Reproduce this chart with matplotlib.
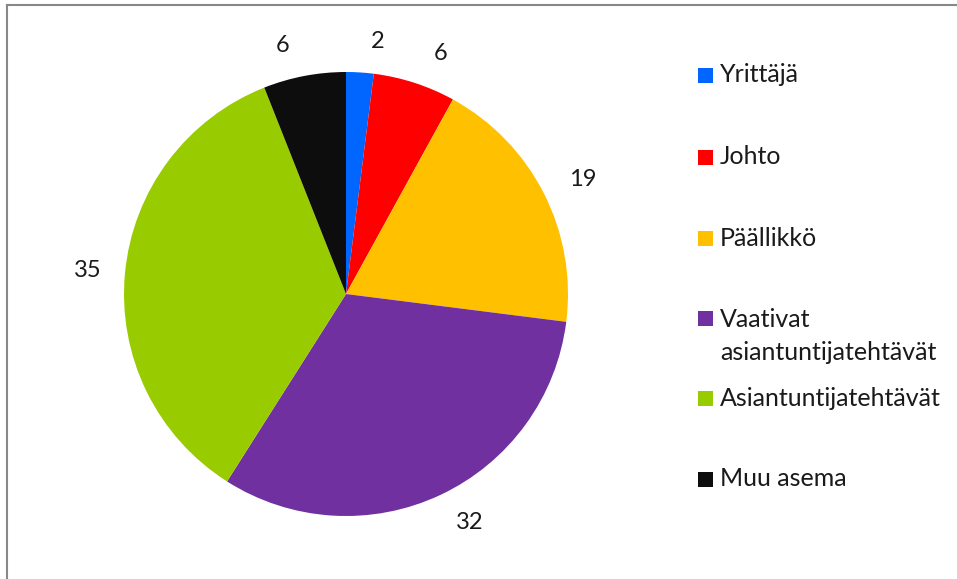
import numpy as np
import matplotlib.pyplot as plt
from matplotlib.patches import Rectangle
from matplotlib.lines import Line2D

plt.rcParams['font.family'] = ['Lato', 'DejaVu Sans']

categories = ['Yrittäjä', 'Johto', 'Päällikkö', 'Vaativat\nasiantuntijatehtävät',
              'Asiantuntijatehtävät', 'Muu asema']
values = [2, 6, 19, 32, 35, 6]
colors = ['#0066FF', '#FF0000', '#FFC000', '#7030A0', '#99CC00', '#0D0D0D']

W, H = 957, 579
fig = plt.figure(figsize=(W / 100, H / 100), dpi=100)

# pie area: centre (346, 294), radius 222 px
cx, cy, r = 346, 294, 222
ax = fig.add_axes([(cx - r) / W, (H - cy - r) / H, 2 * r / W, 2 * r / H])
wedges, _ = ax.pie(values, colors=colors, startangle=90, counterclock=False,
                   radius=1, wedgeprops=dict(linewidth=0))
ax.set_xlim(-1, 1)
ax.set_ylim(-1, 1)
ax.axis('off')

# data labels outside the slices
for w, v in zip(wedges, values):
    ang = np.deg2rad((w.theta1 + w.theta2) / 2)
    ux, uy = np.cos(ang), np.sin(ang)
    lx = 1.16 * ux + 0.07 * np.sign(ux) * abs(uy)
    ly = 1.14 * uy
    ax.text(lx, ly, str(v), ha='center', va='center', fontsize=17, color='#1a1a1a')

# legend drawn by hand (marker aligned with first line of text)
leg_y = [75, 157, 238, 318, 398, 479]
for lab, col, y in zip(categories, colors, leg_y):
    fig.add_artist(Rectangle((698 / W, (H - y - 7.5) / H), 15 / W, 15 / H,
                             transform=fig.transFigure, color=col, lw=0))
    if '\n' in lab:
        fig.text(720 / W, (H - y + 10) / H, lab, ha='left', va='top',
                 fontsize=18, color='#1a1a1a', linespacing=1.55)
    else:
        fig.text(720 / W, (H - y) / H, lab, ha='left', va='center',
                 fontsize=18, color='#1a1a1a')

# chart frame (only top and left visible)
fig.add_artist(Line2D([7 / W, 7 / W], [0, (H - 5) / H], transform=fig.transFigure,
                      color='#888888', lw=1.5))
fig.add_artist(Line2D([7 / W, 1], [(H - 5) / H, (H - 5) / H], transform=fig.transFigure,
                      color='#888888', lw=1.5))

fig.savefig('out.png', dpi=100)
